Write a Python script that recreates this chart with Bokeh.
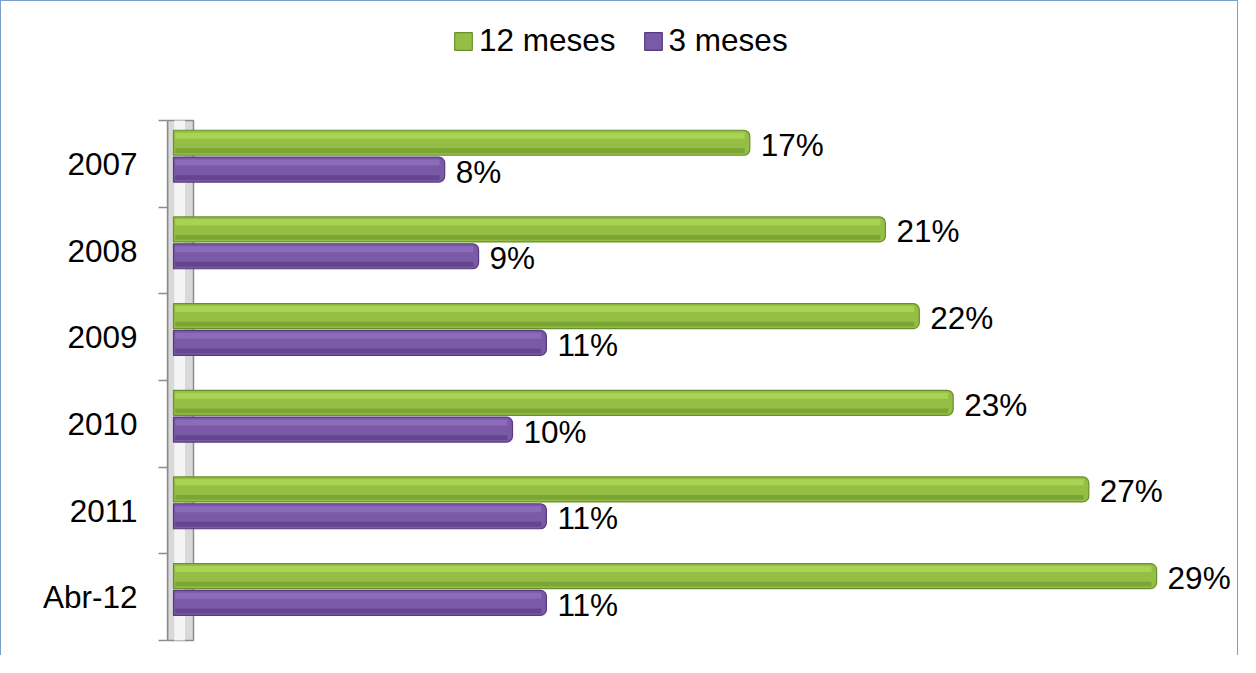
import numpy as np
from bokeh.plotting import figure
from bokeh.models import Range1d, FixedTicker, ColumnDataSource, Legend, LegendItem
from bokeh.core.properties import value
from bokeh.embed import file_html
from bokeh.resources import INLINE

# ---- data ----
categories = ["2007", "2008", "2009", "2010", "2011", "Abr-12"]
meses_12 = [17, 21, 22, 23, 27, 29]
meses_3 = [8, 9, 11, 10, 11, 11]
series_names = ["12 meses", "3 meses"]

# ---- layout constants (pixels) ----
W, H = 1238, 655
LEFT_PANEL = 166          # frame starts here
ZERO_OFF = 6              # px from frame left to value 0
PX_PER_UNIT_X = 33.9      # px per percentage point
CAT_TOP = 119             # px from figure top to first category boundary
PX_PER_CAT = 86.67
FONT = "Liberation Sans"
FSIZE = "31.5px"

x_start = -ZERO_OFF / PX_PER_UNIT_X
x_end = x_start + (W - LEFT_PANEL) / PX_PER_UNIT_X
y_top = -0.5 - CAT_TOP / PX_PER_CAT
y_bottom = -0.5 + (H - CAT_TOP) / PX_PER_CAT

n = len(categories)
idx = np.arange(n)
bar_h = 25 / PX_PER_CAT
g_y = idx - 0.243
p_y = idx + 0.066

p = figure(width=W, height=H, output_backend="svg", toolbar_location=None,
           x_range=Range1d(x_start, x_end), y_range=Range1d(y_bottom, y_top),
           x_axis_location=None, min_border_left=LEFT_PANEL, min_border_right=0,
           min_border_top=0, min_border_bottom=0)
p.styles = {"border-top": "1px solid #7a9fd1", "border-left": "1px solid #7a9fd1",
            "border-right": "1px solid #7a9fd1"}
p.xgrid.visible = False
p.ygrid.visible = False
p.outline_line_color = None
p.background_fill_color = "white"
p.border_fill_color = "white"

# 3D wall behind the bars
wall_right = 20 / PX_PER_UNIT_X
p.quad(left=[x_start], right=[wall_right], top=[-0.5], bottom=[n - 0.5],
       fill_color="#d9d9d9", line_color="#8c8c8c", line_width=1.5)
p.quad(left=[x_start + 0.2], right=[wall_right - 0.25], top=[-0.5], bottom=[n - 0.5],
       fill_color="#f4f4f4", line_alpha=0)

src = ColumnDataSource(dict(cat=categories, v12=meses_12, v3=meses_3, gy=g_y, py=p_y,
                            l12=[f"{v}%" for v in meses_12], l3=[f"{v}%" for v in meses_3]))

radius = dict(top_left=0, top_right=6, bottom_right=6, bottom_left=0)
band = 6 / PX_PER_CAT

r12 = p.hbar(y="gy", right="v12", left=0, height=bar_h, source=src,
             fill_color="#94bf44", line_color="#6b8f2c", line_width=1.2,
             border_radius=radius)
p.hbar(y=g_y - bar_h / 2 + band * 0.9, right=np.array(meses_12) - 0.15, left=0.05,
       height=band, fill_color="#a8d456", line_alpha=0)
p.hbar(y=g_y + bar_h / 2 - band * 0.75, right=np.array(meses_12) - 0.15, left=0.05,
       height=band * 0.8, fill_color="#7ba636", line_alpha=0)

r3 = p.hbar(y="py", right="v3", left=0, height=bar_h, source=src,
            fill_color="#7a59a6", line_color="#563b7e", line_width=1.2,
            border_radius=radius)
p.hbar(y=p_y - bar_h / 2 + band * 0.9, right=np.array(meses_3) - 0.15, left=0.05,
       height=band, fill_color="#8c6bbb", line_alpha=0)
p.hbar(y=p_y + bar_h / 2 - band * 0.75, right=np.array(meses_3) - 0.15, left=0.05,
       height=band * 0.8, fill_color="#644590", line_alpha=0)

lab_dx = 11 / PX_PER_UNIT_X
lab_dy = 2 / PX_PER_CAT
p.text(x=np.array(meses_12) + lab_dx, y=g_y + lab_dy, text=src.data["l12"],
       text_font=value(FONT), text_font_size=FSIZE, text_color="black",
       text_baseline="middle", text_align="left")
p.text(x=np.array(meses_3) + lab_dx, y=p_y + lab_dy, text=src.data["l3"],
       text_font=value(FONT), text_font_size=FSIZE, text_color="black",
       text_baseline="middle", text_align="left")

# y axis
ax = p.yaxis[0]
ax.ticker = FixedTicker(ticks=list(idx), minor_ticks=list(np.arange(n + 1) - 0.5))
ax.major_label_overrides = {int(i): c for i, c in zip(idx, categories)}
ax.bounds = (-0.5, n - 0.5)
ax.axis_line_color = "#8c8c8c"
ax.axis_line_width = 1.5
ax.major_tick_out = 0
ax.major_tick_in = 0
ax.minor_tick_out = 9
ax.minor_tick_in = 0
ax.minor_tick_line_color = "#8c8c8c"
ax.minor_tick_line_width = 1.5
ax.major_label_standoff = 21
ax.major_label_text_font = FONT
ax.major_label_text_font_size = FSIZE
ax.major_label_text_color = "black"

legend = Legend(items=[LegendItem(label=series_names[0], renderers=[r12]),
                       LegendItem(label=series_names[1], renderers=[r3])],
                orientation="horizontal", location=(285, 597),
                glyph_width=22, glyph_height=22, label_standoff=5, spacing=26,
                padding=0, margin=0, border_line_alpha=0, background_fill_alpha=0,
                label_text_font=FONT, label_text_font_size=FSIZE,
                label_text_color="black")
p.add_layout(legend, "center")

open("out.html", "w").write(file_html(p, INLINE))
